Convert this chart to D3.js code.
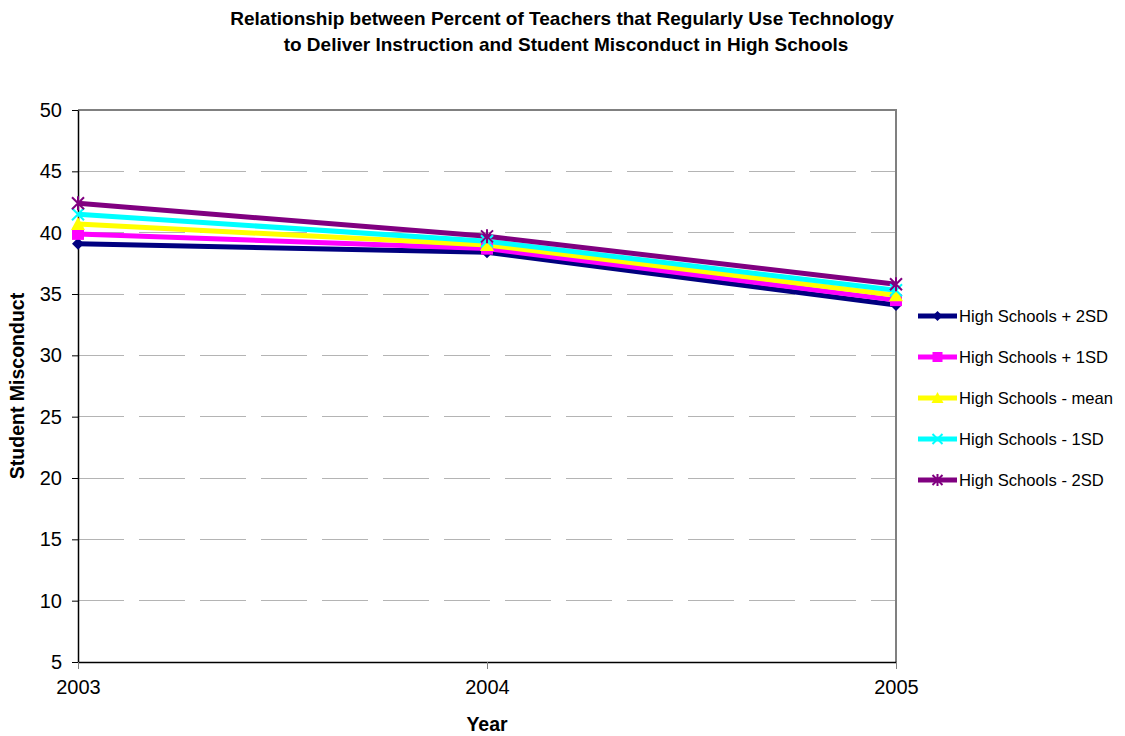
<!DOCTYPE html>
<html><head><meta charset="utf-8">
<script src="https://cdn.jsdelivr.net/npm/d3@7"></script>
<style>body{margin:0;background:#fff;}svg text{font-family:"Liberation Sans",Arial,sans-serif;}</style>
</head><body><svg id="c" width="1125" height="736"></svg>
<script>
const years = ["2003", "2004", "2005"];
const seriesNames = ["High Schools + 2SD", "High Schools + 1SD", "High Schools - mean", "High Schools - 1SD", "High Schools - 2SD"];
const plus2SD = [39.1, 38.4, 34.1];
const plus1SD = [39.9, 38.7, 34.5];
const meanVals = [40.7, 39.0, 34.9];
const minus1SD = [41.5, 39.3, 35.3];
const minus2SD = [42.4, 39.7, 35.8];
const colors = ["#000080", "#FF00FF", "#FFFF00", "#00FFFF", "#800080"];
const markers = ["diamond", "square", "triangle", "x", "star"];
const yTicks = [5, 10, 15, 20, 25, 30, 35, 40, 45, 50];
const allSeries = [plus2SD, plus1SD, meanVals, minus1SD, minus2SD];

const svg = d3.select("#c");
const L = 78, R = 896, T = 110, B = 662;
const x = d3.scalePoint().domain(years).range([L, R]);
const y = d3.scaleLinear().domain([5, 50]).range([B, T]);

// gridlines
svg.append("g").selectAll("line").data(yTicks.filter(d => d > 5 && d < 50)).join("line")
  .attr("x1", L).attr("x2", R).attr("y1", d => y(d)).attr("y2", d => y(d))
  .attr("stroke", "#b4b4b4").attr("stroke-width", 1).attr("stroke-dasharray", "46,15")
  .attr("shape-rendering", "crispEdges");
// plot border top/right
svg.append("path").attr("d", `M${L},${y(50)}H${R}V${B}`).attr("fill", "none")
  .attr("stroke", "#808080").attr("stroke-width", 2);

// axes
const yAxis = svg.append("g").attr("transform", `translate(${L},0)`)
  .call(d3.axisLeft(y).tickValues(yTicks).tickSize(6).tickSizeOuter(0).tickPadding(10));
yAxis.select(".domain").attr("stroke", "#000").attr("stroke-width", 1.5);
yAxis.selectAll(".tick line").attr("stroke", "#000");
yAxis.selectAll("text").attr("font-size", 20).attr("fill", "#000");

const xAxis = svg.append("g").attr("transform", `translate(0,${B})`)
  .call(d3.axisBottom(x).tickSize(7).tickSizeOuter(0).tickPadding(11));
xAxis.select(".domain").attr("stroke", "#000").attr("stroke-width", 1.5);
xAxis.selectAll(".tick line").attr("stroke", "#808080");
xAxis.selectAll("text").attr("font-size", 20).attr("fill", "#000");

// lines
const line = d3.line().x((d, i) => x(years[i])).y(d => y(d));
function marker(g, type, cx, cy, color, s) {
  if (type === "diamond") {
    g.append("path").attr("d", `M${cx},${cy - s}L${cx + s},${cy}L${cx},${cy + s}L${cx - s},${cy}Z`).attr("fill", color);
  } else if (type === "square") {
    g.append("rect").attr("x", cx - s).attr("y", cy - s).attr("width", 2 * s).attr("height", 2 * s).attr("fill", color);
  } else if (type === "triangle") {
    g.append("path").attr("d", `M${cx},${cy - s - 1}L${cx + s + 1},${cy + s}L${cx - s - 1},${cy + s}Z`).attr("fill", color);
  } else if (type === "x") {
    g.append("path").attr("d", `M${cx - s},${cy - s}L${cx + s},${cy + s}M${cx - s},${cy + s}L${cx + s},${cy - s}`).attr("stroke", color).attr("stroke-width", 2);
  } else if (type === "star") {
    g.append("path").attr("d", `M${cx - s},${cy - s}L${cx + s},${cy + s}M${cx - s},${cy + s}L${cx + s},${cy - s}M${cx},${cy - s - 1}V${cy + s + 1}`).attr("stroke", color).attr("stroke-width", 2);
  }
}
allSeries.forEach((vals, k) => {
  svg.append("path").datum(vals).attr("d", line).attr("fill", "none")
    .attr("stroke", colors[k]).attr("stroke-width", 5).attr("stroke-linejoin", "round");
});
allSeries.forEach((vals, k) => {
  const g = svg.append("g");
  vals.forEach((v, i) => marker(g, markers[k], x(years[i]), y(v), colors[k], 6));
});

// legend
const lg = svg.append("g");
seriesNames.forEach((n, k) => {
  const cy = 316 + k * 41;
  lg.append("line").attr("x1", 918).attr("x2", 957).attr("y1", cy).attr("y2", cy)
    .attr("stroke", colors[k]).attr("stroke-width", 5);
  marker(lg, markers[k], 937.5, cy, colors[k], 5);
  lg.append("text").attr("x", 959).attr("y", cy + 6).attr("font-size", 16.6).text(n);
});

// titles
const title = svg.append("text").attr("text-anchor", "middle").attr("font-size", 19).attr("font-weight", "bold");
title.append("tspan").attr("x", 562).attr("y", 25).text("Relationship between Percent of Teachers that Regularly Use Technology");
title.append("tspan").attr("x", 566).attr("y", 51).text("to Deliver Instruction and Student Misconduct in High Schools");
svg.append("text").attr("x", 487).attr("y", 731).attr("text-anchor", "middle")
  .attr("font-size", 19.5).attr("font-weight", "bold").text("Year");
svg.append("text").attr("transform", "translate(24,386) rotate(-90)").attr("text-anchor", "middle")
  .attr("font-size", 19.5).attr("font-weight", "bold").text("Student Misconduct");
</script></body></html>
